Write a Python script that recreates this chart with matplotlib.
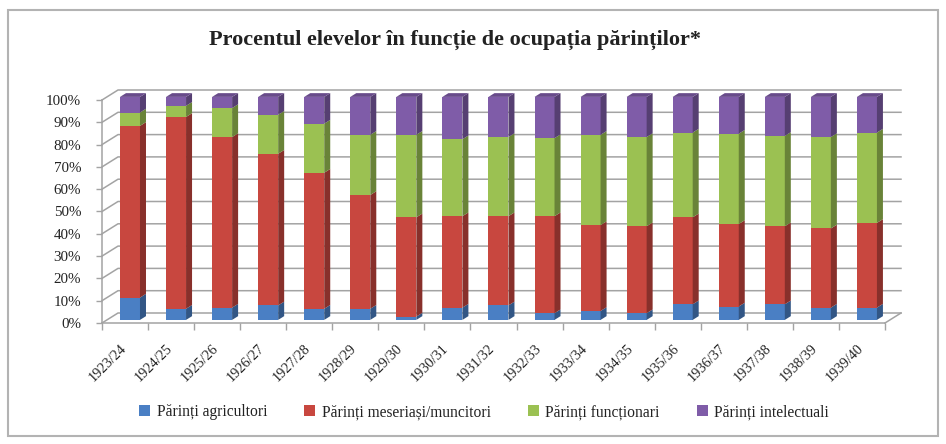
import numpy as np
import matplotlib
matplotlib.use("Agg")
import matplotlib.pyplot as plt
from matplotlib.patches import Polygon, Rectangle, Patch
from matplotlib.colors import to_rgb

plt.rcParams['font.family'] = ['Liberation Serif', 'DejaVu Serif']

years = ['1923/24', '1924/25', '1925/26', '1926/27', '1927/28', '1928/29',
         '1929/30', '1930/31', '1931/32', '1932/33', '1933/34', '1934/35',
         '1935/36', '1936/37', '1937/38', '1938/39', '1939/40']

agricultori = [10, 5, 5.5, 6.5, 5, 5, 1.5, 5.5, 6.5, 3, 4, 3, 7, 6, 7, 5.5, 5.5]
meseriasi = [77, 86, 76.5, 68, 61, 51, 44.5, 41, 40, 43.5, 38.5, 39, 39, 37, 35, 35.5, 38]
functionari = [6, 5, 13, 17.5, 22, 27, 37, 34.5, 35.5, 35, 40.5, 40, 38, 40.5, 40.5, 41, 40.5]
intelectuali = [100 - a - m - f for a, m, f in zip(agricultori, meseriasi, functionari)]

series = [agricultori, meseriasi, functionari, intelectuali]
labels = ['Părinți agricultori', 'Părinți meseriași/muncitori',
          'Părinți funcționari', 'Părinți intelectuali']
colors = ['#4a7fc4', '#c8473f', '#9bc152', '#7f5ca8']

W, H = 946, 444
fig = plt.figure(figsize=(W / 100, H / 100), dpi=100)
ax = fig.add_axes([102 / W, (H - 323) / H, (885 - 102) / W, (323 - 100) / H])
n = len(years)
ax.set_xlim(-0.5, n - 0.5)
ax.set_ylim(0, 100)

# depth of the floor in data units (16 px right, 10 px up)
px_x = (885 - 102) / n
px_y = (323 - 100) / 100
ddx = 16 / px_x
ddy = 10 / px_y

grid_c = '#a3a3a3'
for v in range(0, 101, 10):
    ax.plot([-0.5, -0.5 + ddx, n - 0.5 + ddx], [v, v + ddy, v + ddy],
            color=grid_c, lw=1.1, clip_on=False, zorder=1)
ax.plot([n - 0.5, n - 0.5 + ddx], [0, ddy], color=grid_c, lw=1.1, clip_on=False, zorder=1)

# 3D-looking stacked columns
bw = 20 / px_x
t0, bd = 0.31, 0.375
x = np.arange(n)
bottom = np.zeros(n)
for vals, col in zip(series, colors):
    vals = np.array(vals, dtype=float)
    ax.bar(x + t0 * ddx, vals, bw, bottom=bottom + t0 * ddy, color=col,
           lw=0, zorder=3, clip_on=False)
    dark = tuple(c * 0.68 for c in to_rgb(col))
    for i in range(n):
        x1 = x[i] + t0 * ddx + bw / 2
        yb = bottom[i] + t0 * ddy
        yt = yb + vals[i]
        ax.add_patch(Polygon([(x1, yb), (x1, yt), (x1 + bd * ddx, yt + bd * ddy),
                              (x1 + bd * ddx, yb + bd * ddy)],
                             closed=True, fc=dark, lw=0, zorder=3, clip_on=False))
    bottom += vals

top_c = tuple(c * 0.82 for c in to_rgb(colors[-1]))
for i in range(n):
    x0 = x[i] + t0 * ddx - bw / 2
    yt = bottom[i] + t0 * ddy
    ax.add_patch(Polygon([(x0, yt), (x0 + bw, yt), (x0 + bw + bd * ddx, yt + bd * ddy),
                          (x0 + bd * ddx, yt + bd * ddy)],
                         closed=True, fc=top_c, lw=0, zorder=3, clip_on=False))

for s in ['top', 'right']:
    ax.spines[s].set_visible(False)
for s in ['left', 'bottom']:
    ax.spines[s].set_color(grid_c)
    ax.spines[s].set_linewidth(1.1)
ax.set_facecolor('none')

ax.set_yticks(range(0, 101, 10))
ax.set_yticklabels([f'{v}%' for v in range(0, 101, 10)])
ax.tick_params(axis='y', length=4, width=1, color=grid_c, pad=11, labelsize=10.8, labelcolor='#222222')
ax.set_xticks(np.arange(n + 1) - 0.5)
ax.set_xticklabels([])
ax.tick_params(axis='x', length=5, width=1, color=grid_c)

for i, yr in enumerate(years):
    ax.annotate(yr, xy=(i, 0), xycoords=('data', 'axes fraction'),
                xytext=(4, -19), textcoords='offset pixels', rotation=45,
                ha='right', va='top', fontsize=10.3, color='#222222')

fig.text(455 / W, 1 - 40 / H, 'Procentul elevelor în funcție de ocupația părinților*',
         ha='center', va='center', fontsize=16, fontweight='bold', color='#222222')

handles = [Patch(fc=c, ec='none') for c in colors]
fig.legend(handles, labels, loc='center', bbox_to_anchor=(484 / W, 1 - 412 / H), ncol=4,
           frameon=False, fontsize=11.2, handlelength=0.7, handleheight=0.7,
           handletextpad=0.4, columnspacing=2.4, labelcolor='#222222')

fig.add_artist(Rectangle((8 / W, 8 / H), (938 - 8) / W, (434 - 8) / H, transform=fig.transFigure,
                         fill=False, ec='#b3b3b3', lw=1.5))

fig.savefig('out.png', dpi=100)
